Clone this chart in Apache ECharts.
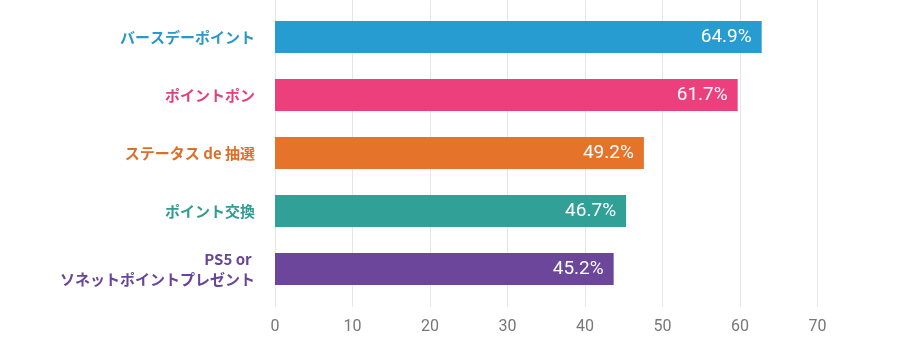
<!DOCTYPE html>
<html>
<head>
<meta charset="utf-8">
<script src="https://cdn.jsdelivr.net/npm/echarts@6/dist/echarts.min.js"></script>
<style>
html,body{margin:0;padding:0;background:#fff;}
#c{width:912px;height:339px;}
</style>
</head>
<body>
<div id="c"></div>
<script>
var categories = ['バースデーポイント', 'ポイントポン', 'ステータス de 抽選', 'ポイント交換', 'PS5 or \nソネットポイントプレゼント'];
var barValues = [62.8, 59.7, 47.6, 45.3, 43.7];
var valueLabels = ['64.9%', '61.7%', '49.2%', '46.7%', '45.2%'];
var barColors = ['#279cd1', '#ec407d', '#e57329', '#31a197', '#6b469b'];
var labelColors = ['#2a97cc', '#e33f7a', '#df6e27', '#2f9c93', '#68449a'];
var xTicks = [0, 10, 20, 30, 40, 50, 60, 70];

var chart = echarts.init(document.getElementById('c'));
chart.setOption({
  animation: false,
  grid: [
    {left: 275, right: 94.5, top: 8, height: 290},
    {left: 275, right: 94.5, top: 0, height: 307}
  ],
  xAxis: [
    {gridIndex: 0, type: 'value', min: 0, max: 70, interval: 10,
     axisLine: {show: false}, axisTick: {show: false}, axisLabel: {show: false}, splitLine: {show: false}},
    {gridIndex: 1, type: 'value', min: xTicks[0], max: xTicks[xTicks.length - 1], interval: 10,
     axisLine: {show: false}, axisTick: {show: false},
     axisLabel: {margin: 12, color: '#777', fontSize: 16, fontFamily: 'Roboto',
       formatter: function (v) { return xTicks.indexOf(v) >= 0 ? String(v) : ''; }},
     splitLine: {show: true, lineStyle: {color: '#e6e6e6', width: 1}}}
  ],
  yAxis: [
    {gridIndex: 0, type: 'category', data: categories, inverse: true,
     axisLine: {show: false}, axisTick: {show: false}, splitLine: {show: false},
     axisLabel: {margin: 20, fontSize: 15, fontWeight: 'bold', lineHeight: 20,
       fontFamily: '"Noto Sans CJK JP", sans-serif', align: 'right',
       color: function (v, i) { return labelColors[i]; }}},
    {gridIndex: 1, type: 'category', data: [''], show: false}
  ],
  series: [{
    type: 'bar', xAxisIndex: 0, yAxisIndex: 0, barWidth: 32,
    data: barValues.map(function (v, i) {
      return {value: v, itemStyle: {color: barColors[i]}};
    }),
    label: {show: true, position: 'insideRight', distance: 10, color: '#fff',
      fontSize: 19, fontFamily: 'Roboto',
      formatter: function (p) { return valueLabels[p.dataIndex]; }}
  }]
});
</script>
</body>
</html>
